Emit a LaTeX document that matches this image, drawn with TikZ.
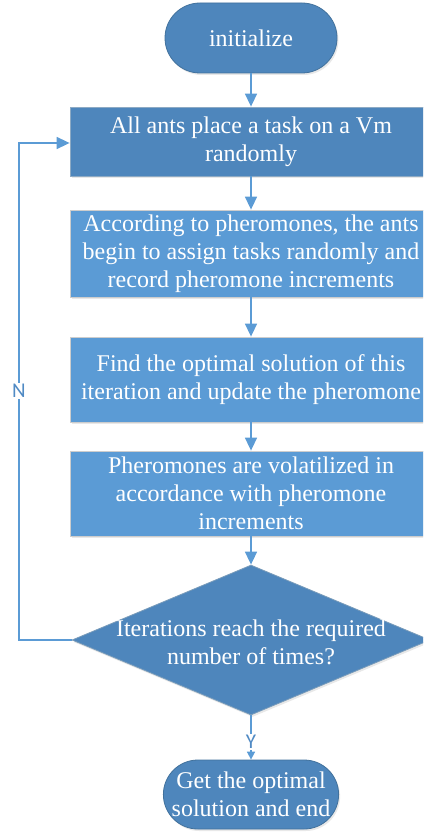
\documentclass[tikz,border=0pt]{standalone}
\usepackage{fontspec}
\setmainfont{Liberation Serif}
\newfontfamily\boxfont{Liberation Serif}
\newfontfamily\labelfont{Carlito}
\usetikzlibrary{arrows.meta,shapes.geometric,shapes.misc,shadows}
\definecolor{darkfill}{RGB}{78,134,188}
\definecolor{darkline}{RGB}{65,113,156}
\definecolor{lightfill}{RGB}{91,155,213}
\definecolor{lightline}{RGB}{205,205,205}
\definecolor{conn}{RGB}{91,155,213}
\definecolor{lbl}{RGB}{80,138,196}
\tikzset{
  x=1pt, y=-1pt,
  basetext/.style={text=white, font=\boxfont\fontsize{24}{28}\selectfont, align=center, inner sep=0pt},
  shade1/.style={drop shadow={opacity=0.18, shadow xshift=1.5pt, shadow yshift=-2pt}},
  terminal/.style={basetext, rounded rectangle, fill=darkfill, draw=darkline, line width=0.8pt,
    minimum width=172pt, minimum height=70pt, shade1},
  darkbox/.style={basetext, rectangle, fill=darkfill, draw=darkline!60!white, line width=0.8pt,
    minimum width=362pt, shade1},
  lightbox/.style={basetext, rectangle, fill=lightfill, draw=lightline, line width=0.8pt,
    minimum width=362pt, shade1},
  decision/.style={diamond, fill=darkfill, draw=darkline!70!white, line width=0.8pt,
    minimum width=358pt, minimum height=150pt, inner sep=0pt, aspect=2.4, shade1},
  conn/.style={draw=conn, line width=1.6pt, -{Triangle[width=12pt,length=13pt]}},
  connline/.style={draw=conn, line width=1.6pt},
  smalllabel/.style={text=lbl, font=\labelfont\fontsize{21}{23}\selectfont, fill=white, inner sep=1pt}
}
\begin{document}
\begin{tikzpicture}
\useasboundingbox (0,0) rectangle (423,834);
\begin{scope}
\clip (0,0) rectangle (423,834);
\node[terminal] (init) at (251,38) {initialize};
\node[darkbox, minimum height=69pt] (b1) at (251,141.5) {All ants place a task on a Vm\\randomly};
\node[lightbox, minimum height=87pt] (b2) at (251,253.5) {According to pheromones, the ants\\begin to assign tasks randomly and\\record pheromone increments};
\node[lightbox, minimum height=85pt] (b3) at (251,379.5) {Find the optimal solution of this\\iteration and update the pheromone};
\node[lightbox, minimum height=85pt] (b4) at (251,493.5) {Pheromones are volatilized in\\accordance with pheromone\\increments};
\node[decision] (dec) at (251,640) {};
\node[basetext] (dectext) at (251,642) {Iterations reach the required\\number of times?};
\node[terminal, minimum height=69pt] (stop) at (251,794.5) {Get the optimal\\solution and end};

\draw[conn] (init.south) -- (b1.north);
\draw[conn] (b1.south) -- (b2.north);
\draw[conn] (b2.south) -- (b3.north);
\draw[conn] (b3.south) -- (b4.north);
\draw[conn] (b4.south) -- (dec.north);

\coordinate (lb) at (19,640);
\coordinate (lt) at (19,143);
\draw[conn] (dec.west) -- (lb) -- (lt) -- (b1.west |- lt);
\node[smalllabel] (nlab) at (19,391) {N};

\draw[connline, -{Triangle[width=8pt,length=8pt]}] (dec.south) -- (stop.north);
\node[smalllabel] (ylab) at (251,742) {Y};
\end{scope}
\end{tikzpicture}
\end{document}
